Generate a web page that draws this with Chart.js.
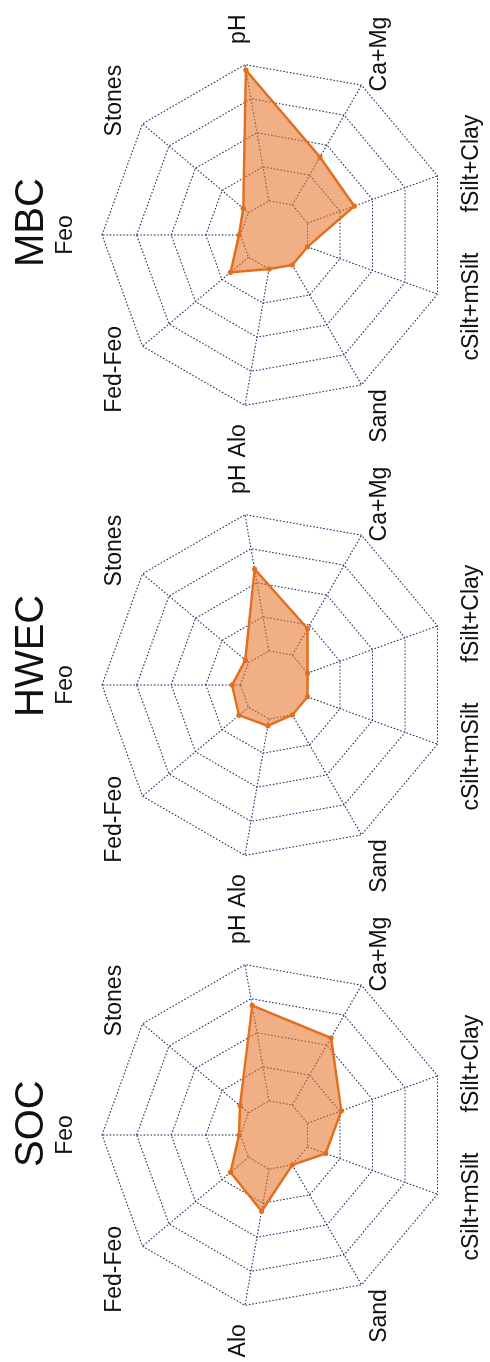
<!DOCTYPE html>
<html>
<head>
<meta charset="utf-8">
<script src="https://cdn.jsdelivr.net/npm/chart.js@4.4.1/dist/chart.umd.min.js"></script>
<style>
  html, body { margin: 0; padding: 0; background: #fff; overflow: hidden; }
  body { width: 490px; height: 1362px; position: relative; }
  /* The three panels are laid out side by side, then the strip is turned a quarter-turn. */
  #strip {
    position: absolute; left: 0; top: 0;
    width: 1362px; height: 490px;
    transform-origin: 0 0;
    transform: translate(0, 1362px) rotate(-90deg);
  }
  #strip canvas { position: absolute; top: 0; }
</style>
</head>
<body>
<div id="strip">
  <canvas id="soc" width="460" height="490"></canvas>
  <canvas id="hwec" width="460" height="490"></canvas>
  <canvas id="mbc" width="460" height="490"></canvas>
</div>
<script>
// Axis variables, clockwise from the top
const variables = ['Feo', 'Stones', 'pH', 'Ca+Mg', 'fSilt+Clay', 'cSilt+mSilt', 'Sand', 'Alo', 'Fed-Feo'];

// Relative importance of each variable (0 = innermost ring, 100 = outer ring)
const socValues  = [1, 8, 70, 56, 26, 14, 0, 31, 17];
const hwecValues = [6, 3, 60, 22, 0, 0, 0, 5, 9];
const mbcValues  = [1, 5, 96, 40, 36, 0, 0, 0, 17];

const panelTitles = ['SOC', 'HWEC', 'MBC'];
const panelCenters = [227, 677, 1127];

// Ring scale: value 0 sits on the innermost ring, the centre is left open
const ringMin = -25;
const ringMax = 100;
const ringStep = 25;

const orange = 'rgb(226,110,30)';
const orangeFill = 'rgba(230,118,45,0.58)';
const gridColor = 'rgb(48,48,105)';
const gridDash = [1.6, 1.8];
const FONT = '"Liberation Sans", Arial, Helvetica, sans-serif';

// Dotted spokes running from the innermost ring out to the outer ring
const spokes = {
  id: 'spokes',
  beforeDatasetsDraw(chart) {
    const s = chart.scales.r;
    const ctx = chart.ctx;
    ctx.save();
    ctx.strokeStyle = gridColor;
    ctx.lineWidth = 1.1;
    ctx.setLineDash(gridDash);
    for (let i = 0; i < variables.length; i++) {
      const a = s.getPointPositionForValue(i, 0);
      const b = s.getPointPositionForValue(i, ringMax);
      ctx.beginPath();
      ctx.moveTo(a.x, a.y);
      ctx.lineTo(b.x, b.y);
      ctx.stroke();
    }
    ctx.restore();
  }
};

// Variable names centred just outside each spoke, plus the panel title
const captions = {
  id: 'captions',
  afterDraw(chart, args, opts) {
    const s = chart.scales.r;
    const ctx = chart.ctx;
    ctx.save();
    ctx.fillStyle = '#111';
    ctx.font = '23px ' + FONT;
    ctx.textAlign = 'center';
    ctx.textBaseline = 'middle';
    for (let i = 0; i < variables.length; i++) {
      const p = s.getPointPosition(i, s.drawingArea + 36);
      ctx.fillText(variables[i], p.x, p.y);
    }
    ctx.font = '40px ' + FONT;
    ctx.textAlign = 'left';
    ctx.textBaseline = 'alphabetic';
    ctx.fillText(opts.text, s.xCenter - 32, 43);
    ctx.restore();
  }
};

function makePanel(id, values, title, cx) {
  const canvas = document.getElementById(id);
  canvas.style.left = (cx - 230) + 'px';
  return new Chart(canvas, {
    type: 'radar',
    data: {
      labels: variables,
      datasets: [{
        data: values,
        borderColor: orange,
        backgroundColor: orangeFill,
        borderWidth: 2.4,
        fill: 'start',
        pointRadius: 2.6,
        pointBackgroundColor: orange,
        pointBorderWidth: 0
      }]
    },
    options: {
      responsive: false,
      animation: false,
      devicePixelRatio: 1,
      layout: { padding: { left: 57, right: 57, top: 102, bottom: 42 } },
      plugins: {
        legend: { display: false },
        tooltip: { enabled: false },
        filler: { propagate: false },
        captions: { text: title }
      },
      elements: { line: { tension: 0 } },
      scales: {
        r: {
          min: ringMin,
          max: ringMax,
          ticks: { display: false, stepSize: ringStep },
          pointLabels: { display: false },
          angleLines: { display: false },
          grid: { color: gridColor, lineWidth: 1.1 },
          border: { dash: gridDash }
        }
      }
    },
    plugins: [spokes, captions]
  });
}

makePanel('soc', socValues, panelTitles[0], panelCenters[0]);
makePanel('hwec', hwecValues, panelTitles[1], panelCenters[1]);
makePanel('mbc', mbcValues, panelTitles[2], panelCenters[2]);
</script>
</body>
</html>
